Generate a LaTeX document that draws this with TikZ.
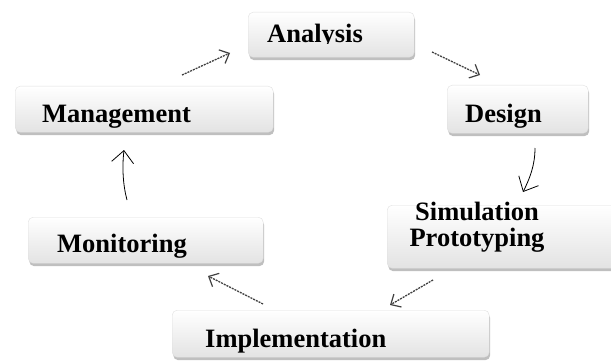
\documentclass[tikz,border=0pt]{standalone}
\usepackage{fontspec}
\setmainfont{Liberation Serif}
\usetikzlibrary{arrows.meta,shadows}
\begin{document}
\begin{tikzpicture}[x=1pt,y=-1pt,
  box/.style={draw=gray!25, line width=0.4pt, rounded corners=5pt,
    top color=white, bottom color=gray!22,
    drop shadow={opacity=0.5, shadow xshift=1pt, shadow yshift=-3pt},
    inner sep=0pt, anchor=north west},
  lbl/.style={font=\fontsize{26.5}{26.5}\selectfont\bfseries, inner sep=0pt, anchor=base west},
  dasharrow/.style={draw=gray!50!black, dash pattern=on 2pt off 1pt, line width=1.3pt,
    -{Straight Barb[length=8pt,width=15pt,line width=1.2pt]}},
  curvearrow/.style={draw=black, line width=0.8pt,
    -{Straight Barb[length=12pt,width=22pt,line width=0.8pt]}}]
\useasboundingbox (0,0) rectangle (611,361);
\clip (0,0) rectangle (611,361);

% boxes
\node[box, minimum width=166pt, minimum height=45pt] (analysis) at (248,12) {};
\node[box, minimum width=258pt, minimum height=46pt] (management) at (15,86) {};
\node[box, minimum width=141pt, minimum height=48pt] (design) at (447,85) {};
\node[box, minimum width=238pt, minimum height=63pt] (simulation) at (387,205) {};
\node[box, minimum width=235pt, minimum height=46pt] (monitoring) at (28,217) {};
\node[box, minimum width=317pt, minimum height=47pt] (implementation) at (172,310) {};

% labels
\begin{scope}
  \clip (240,0) rectangle (420,44);
  \node[lbl] (analysisT) at (267,43) {Analysis};
\end{scope}
\node[lbl] (managementT) at (42,123) {Management};
\node[lbl] (designT) at (465,123) {Design};
\node[lbl, anchor=base] (simulationT) at (477,220) {Simulation};
\node[lbl, anchor=base] (prototypingT) at (477,246) {Prototyping};
\node[lbl] (monitoringT) at (57,252) {Monitoring};
\node[lbl] (implementationT) at (205,347) {Implementation};

% connector end points
\coordinate (a1) at (182,75); \coordinate (a2) at (230,53);
\coordinate (b1) at (432,52); \coordinate (b2) at (480,75);
\coordinate (c1) at (535,148); \coordinate (c2) at (523,192);
\coordinate (d1) at (433,280); \coordinate (d2) at (390,305);
\coordinate (e1) at (263,304); \coordinate (e2) at (208,276);
\coordinate (f1) at (127,200); \coordinate (f2) at (124,150);

% connectors
\draw[dasharrow] (a1) -- (a2);
\draw[dasharrow] (b1) -- (b2);
\draw[curvearrow] (c1) .. controls (535,165) and (530,178) .. (c2);
\draw[dasharrow] (d1) -- (d2);
\draw[dasharrow] (e1) -- (e2);
\draw[curvearrow] (f1) .. controls (123,185) and (122,168) .. (f2);
\end{tikzpicture}
\end{document}
